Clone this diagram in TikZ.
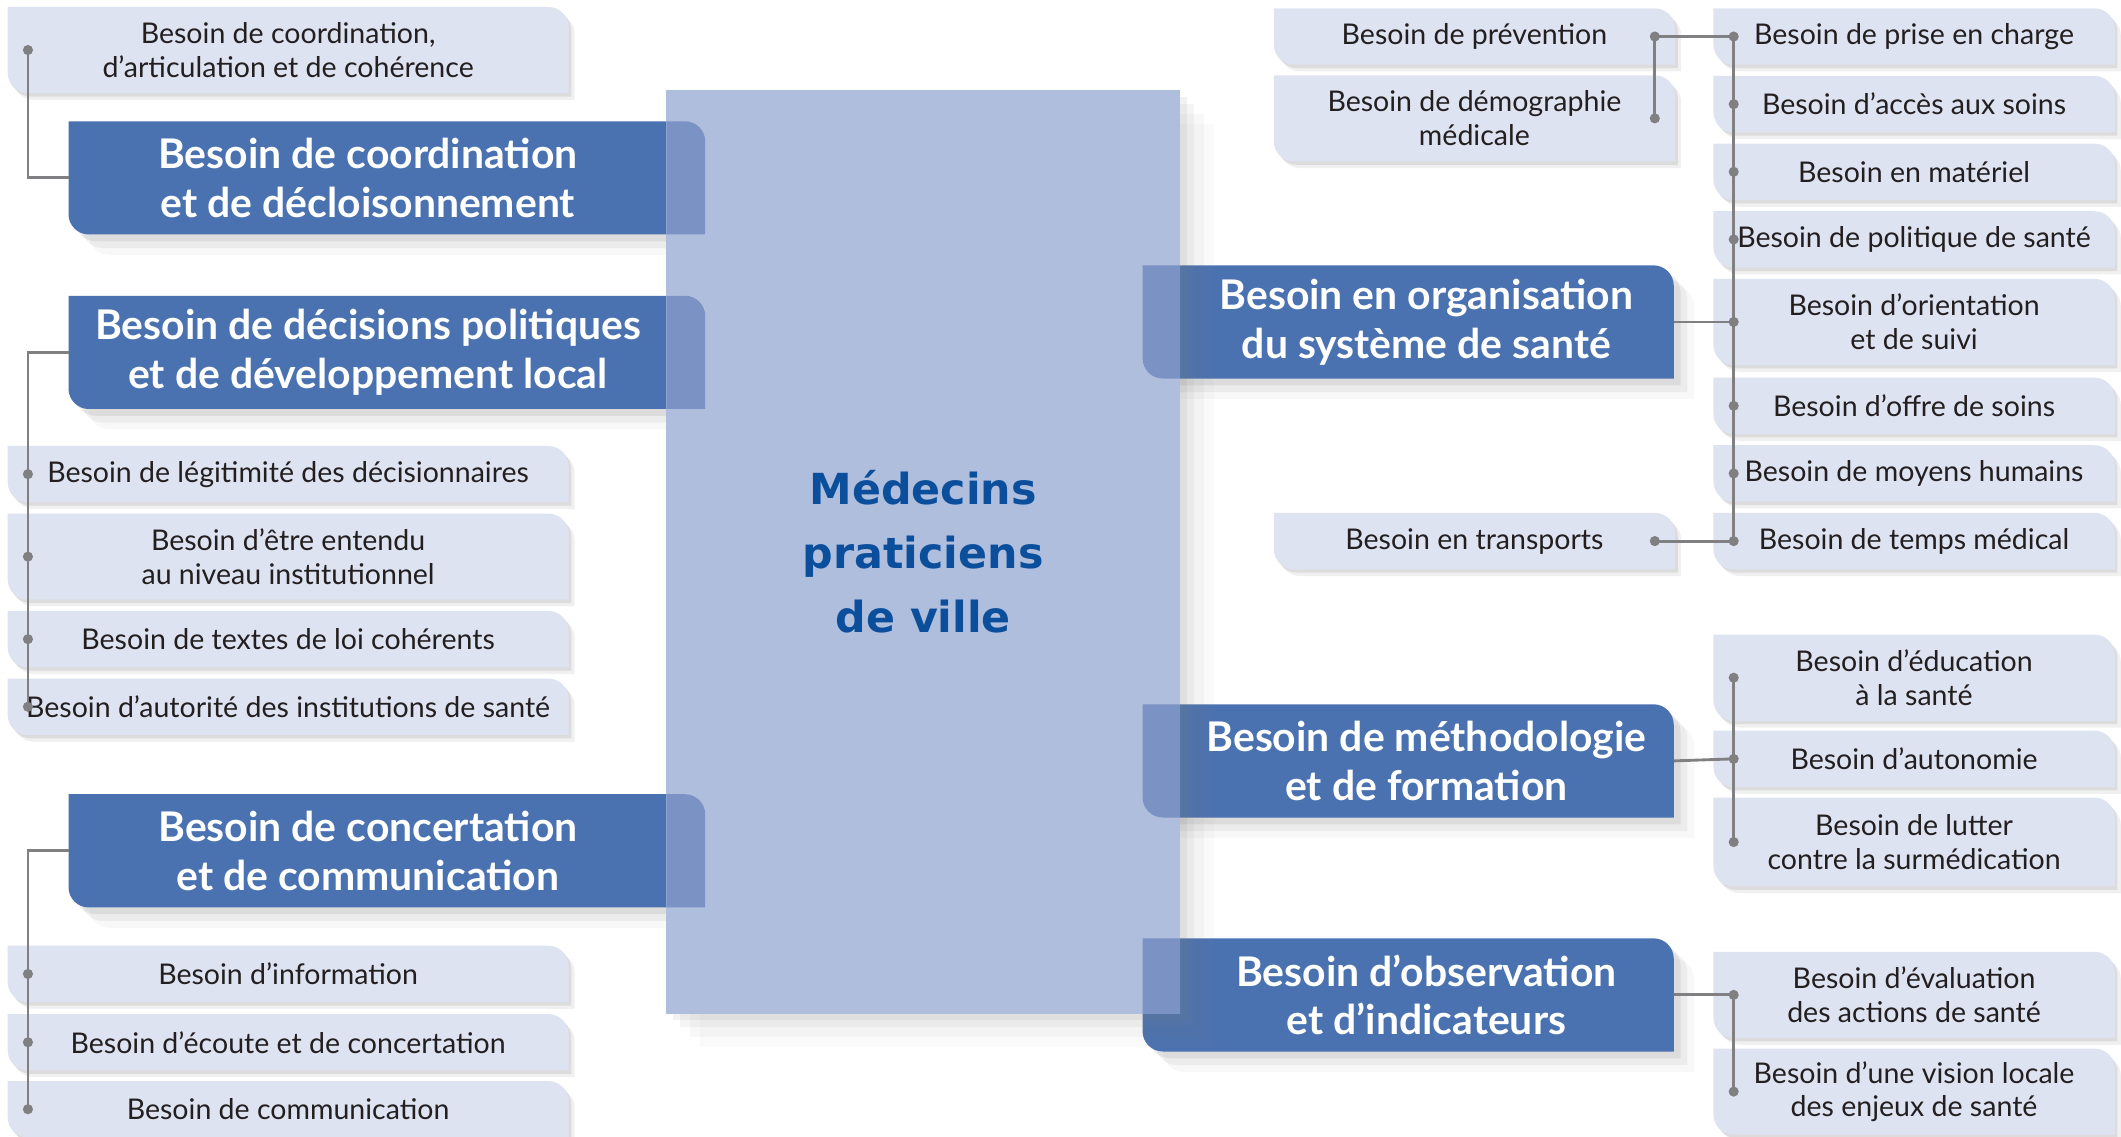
\documentclass[tikz,border=0pt]{standalone}
\usepackage{fontspec}
\setmainfont{Lato}
\newfontfamily\hubfont{DejaVu Sans}
\usetikzlibrary{shadows}

\definecolor{subfill}{HTML}{DEE3F1}
\definecolor{mainfill}{HTML}{4B72B0}
\definecolor{hubfill}{HTML}{AFBEDD}
\definecolor{overlap}{HTML}{7B92C4}
\definecolor{hubtext}{HTML}{0B4F9C}
\definecolor{linkgray}{HTML}{808083}
\definecolor{subtext}{HTML}{231F20}

\pgfdeclarelayer{bg}
\pgfsetlayers{bg,main}

% tab behind a node (rounded top right and bottom left), #3/#4 widen it west/east
\newcommand{\tabfill}[4]{%
  \fill[#1] ([xshift=-#3]#2.north west) -- ([xshift=#4-3mm]#2.north east)
    arc[start angle=90, end angle=0, radius=3mm] -- ([xshift=#4]#2.south east)
    -- ([xshift=3mm-#3]#2.south west) arc[start angle=270, end angle=180, radius=3mm] -- cycle;}

\begin{document}
\begin{tikzpicture}[
    sub/.style={minimum height=0.82cm, inner sep=2pt, align=center, text=subtext, font=\fontsize{12}{14.2}\selectfont},
    lsub/.style={sub, minimum width=8.28cm},
    rsub/.style={sub, minimum width=5.92cm},
    two/.style={minimum height=1.26cm},
    main/.style={minimum height=1.66cm, inner sep=2pt, align=center, text=white, font=\fontsize{17.2}{20.5}\selectfont\bfseries},
    lmain/.style={main, minimum width=8.84cm},
    rmain/.style={main, minimum width=7.3cm},
    hub/.style={minimum width=7.58cm, minimum height=13.64cm, align=center, text=hubtext, font=\hubfont\fontsize{18}{27}\selectfont\bfseries},
    link/.style={draw=linkgray, line width=1.2pt},
    subshadow/.style={drop shadow={shadow xshift=.4mm, shadow yshift=-.5mm, opacity=.18}, drop shadow={shadow xshift=.9mm, shadow yshift=-1mm, opacity=.12}},
    mainshadow/.style={drop shadow={shadow xshift=1mm, shadow yshift=-1mm, opacity=.15}, drop shadow={shadow xshift=2mm, shadow yshift=-2mm, opacity=.1}, drop shadow={shadow xshift=3mm, shadow yshift=-3mm, opacity=.06}},
    hubshadow/.style={drop shadow={shadow xshift=1mm, shadow yshift=-1mm, opacity=.1}, drop shadow={shadow xshift=2mm, shadow yshift=-2mm, opacity=.08}, drop shadow={shadow xshift=3.5mm, shadow yshift=-3.5mm, opacity=.06}, drop shadow={shadow xshift=5mm, shadow yshift=-5mm, opacity=.04}},
]
    \useasboundingbox (0,0) rectangle (31.36,-16.8);

    % Centre
    \node[hub] (hub) at (13.65,-8.16) {Médecins\\praticiens\\de ville};

    % Left branches
    \node[lsub, two] (coord) at (4.26,-0.74) {Besoin de coordination,\\d’articulation et de cohérence};
    \node[lmain] (coordi) at (5.44,-2.63) {Besoin de coordination\\et de décloisonnement};

    \node[lmain] (decis) at (5.44,-5.21) {Besoin de décisions politiques\\et de développement local};
    \node[lsub] (legit) at (4.26,-7.01) {Besoin de légitimité des décisionnaires};
    \node[lsub, two] (entendu) at (4.26,-8.23) {Besoin d’être entendu\\au niveau institutionnel};
    \node[lsub] (textes) at (4.26,-9.45) {Besoin de textes de loi cohérents};
    \node[lsub] (autorite) at (4.26,-10.45) {Besoin d’autorité des institutions de santé};

    \node[lmain] (concert) at (5.44,-12.58) {Besoin de concertation\\et de communication};
    \node[lsub] (info) at (4.26,-14.4) {Besoin d’information};
    \node[lsub] (ecoute) at (4.26,-15.41) {Besoin d’écoute et de concertation};
    \node[lsub] (commu) at (4.26,-16.4) {Besoin de communication};

    % Right branches
    \node[rmain] (orga) at (21.09,-4.76) {Besoin en organisation\\du système de santé};
    \node[rsub] (prevention) at (21.8,-0.54) {Besoin de prévention};
    \node[rsub, two] (demo) at (21.8,-1.75) {Besoin de démographie\\médicale};
    \node[rsub] (transports) at (21.8,-8.0) {Besoin en transports};
    \node[rsub] (prise) at (28.3,-0.54) {Besoin de prise en charge};
    \node[rsub] (acces) at (28.3,-1.54) {Besoin d’accès aux soins};
    \node[rsub] (materiel) at (28.3,-2.54) {Besoin en matériel};
    \node[rsub] (politique) at (28.3,-3.54) {Besoin de politique de santé};
    \node[rsub, two] (orient) at (28.3,-4.76) {Besoin d’orientation\\et de suivi};
    \node[rsub] (offre) at (28.3,-6.0) {Besoin d’offre de soins};
    \node[rsub] (moyens) at (28.3,-7.0) {Besoin de moyens humains};
    \node[rsub] (temps) at (28.3,-8.0) {Besoin de temps médical};

    \node[rmain] (metho) at (21.09,-11.25) {Besoin de méthodologie\\et de formation};
    \node[rsub, two] (educ) at (28.3,-10.02) {Besoin d’éducation\\à la santé};
    \node[rsub] (autonomie) at (28.3,-11.22) {Besoin d’autonomie};
    \node[rsub, minimum height=1.3cm] (lutter) at (28.3,-12.45) {Besoin de lutter\\contre la surmédication};

    \node[rmain] (obs) at (21.09,-14.71) {Besoin d’observation\\et d’indicateurs};
    \node[rsub, two] (evaluation) at (28.3,-14.71) {Besoin d’évaluation\\des actions de santé};
    \node[rsub, two] (vision) at (28.3,-16.14) {Besoin d’une vision locale\\des enjeux de santé};

    % Boxes
    \begin{pgfonlayer}{bg}
        \tabfill{mainfill, mainshadow}{coordi}{0mm}{5.6mm}
        \tabfill{mainfill, mainshadow}{decis}{0mm}{5.6mm}
        \tabfill{mainfill, mainshadow}{concert}{0mm}{5.6mm}
        \tabfill{mainfill, mainshadow}{orga}{5.4mm}{0mm}
        \tabfill{mainfill, mainshadow}{metho}{5.4mm}{0mm}
        \tabfill{mainfill, mainshadow}{obs}{5.4mm}{0mm}

        \fill[hubfill, hubshadow] (hub.north west) rectangle (hub.south east);
        \begin{scope}
            \clip (hub.north west) rectangle (hub.south east);
            \tabfill{overlap}{coordi}{0mm}{5.6mm}
            \tabfill{overlap}{decis}{0mm}{5.6mm}
            \tabfill{overlap}{concert}{0mm}{5.6mm}
            \tabfill{overlap}{orga}{5.4mm}{0mm}
            \tabfill{overlap}{metho}{5.4mm}{0mm}
            \tabfill{overlap}{obs}{5.4mm}{0mm}
        \end{scope}

        \foreach \b in {coord,legit,entendu,textes,autorite,info,ecoute,commu,prevention,demo,transports,prise,acces,materiel,politique,orient,offre,moyens,temps,educ,autonomie,lutter,evaluation,vision}
            {\tabfill{subfill, subshadow}{\b}{0mm}{0mm}}
    \end{pgfonlayer}

    % Links
    \draw[link] (coordi.west) -| ([xshift=3mm]coord.west);
    \draw[link] (decis.west) -| ([xshift=3mm]autorite.west);
    \draw[link] (concert.west) -| ([xshift=3mm]commu.west);

    \draw[link] ([xshift=3mm]prise.west) -- ([xshift=3mm]temps.west);
    \draw[link] (orga.east) -- ([xshift=3mm]orient.west);
    \draw[link] ([xshift=-3mm]prevention.east) -- ([xshift=3mm]prise.west);
    \draw[link] ([xshift=-3mm]prevention.east) -- ([xshift=-3mm]demo.east);
    \draw[link] ([xshift=-3mm]transports.east) -- ([xshift=3mm]temps.west);

    \draw[link] ([xshift=3mm]educ.west) -- ([xshift=3mm]lutter.west);
    \draw[link] (metho.east) -- ([xshift=3mm]autonomie.west);
    \draw[link] ([xshift=3mm]evaluation.west) -- ([xshift=3mm]vision.west);
    \draw[link] (obs.east) -- ([xshift=3mm]evaluation.west);

    % Dots
    \foreach \b in {coord,legit,entendu,textes,autorite,info,ecoute,commu,prise,acces,materiel,politique,orient,offre,moyens,temps,educ,autonomie,lutter,evaluation,vision}
        \fill[linkgray] ([xshift=3mm]\b.west) circle (0.75mm);
    \foreach \b in {prevention,demo,transports}
        \fill[linkgray] ([xshift=-3mm]\b.east) circle (0.75mm);
\end{tikzpicture}
\end{document}
